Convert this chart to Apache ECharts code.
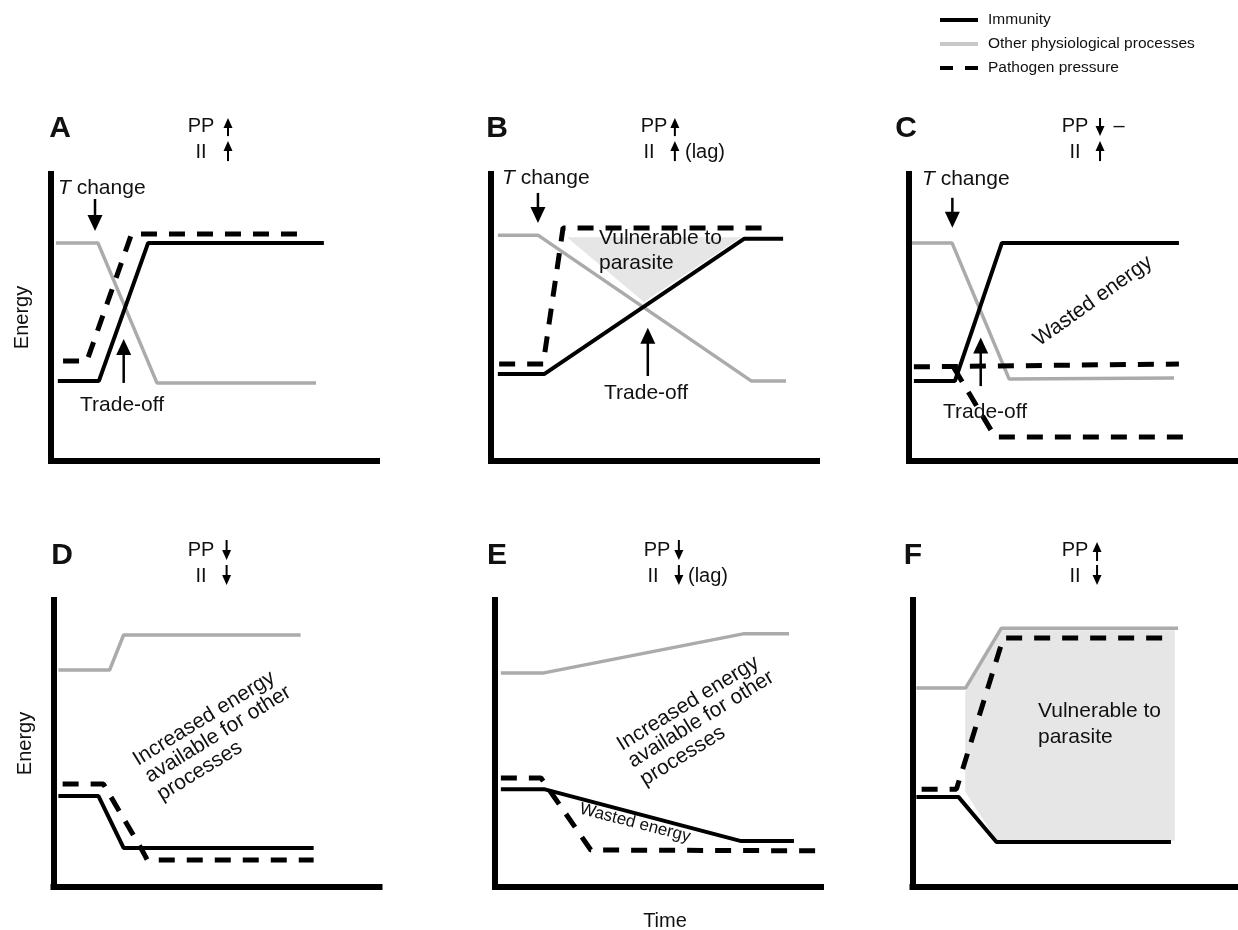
<!DOCTYPE html>
<html><head><meta charset="utf-8">
<script src="https://cdn.jsdelivr.net/npm/echarts@6/dist/echarts.min.js"></script>
<style>html,body{margin:0;padding:0;background:#fff}#c{width:1238px;height:930px}</style>
</head><body><div id="c"></div>
<script>
// ---------- data (schematic units: time 0-100, energy 0-100) ----------
const seriesNames = ['Immunity', 'Other physiological processes', 'Pathogen pressure'];
const panelLetters = ['A', 'B', 'C', 'D', 'E', 'F'];

const immA   = [[2.1,27.9],[14.7,27.9],[29.8,76],[83.7,76]];
const otherA = [[1.5,76],[14.4,76],[32.5,27.2],[81.3,27.2]];
const pathA  = [[3.7,34.8],[11.0,34.8],[24.7,79.1],[75.8,79.1]];

const immB   = [[2.1,30.3],[16.3,30.3],[77.6,77.4],[89.6,77.4]];
const otherB = [[2.1,78.7],[14.4,78.7],[79.8,27.9],[90.5,27.9]];
const pathB  = [[2.5,33.8],[16.0,33.8],[22.1,81.2],[85.3,81.2]];
const vulnB  = [[23.3,78.0],[76.7,78.0],[46.9,55.4]];

const immC   = [[1.5,27.9],[14.1,27.9],[28.5,76],[82.8,76]];
const otherC = [[0.9,76],[13.2,76],[30.7,28.6],[81.3,28.9]];
const pathC1 = [[1.5,32.8],[82.8,33.8]];
const pathC2 = [[13.8,32.4],[26.4,8.4],[86.5,8.4]];

const immD   = [[1.5,31.7],[13.8,31.7],[21.5,13.6],[79.8,13.6]];
const otherD = [[1.5,75.6],[17.2,75.6],[21.5,87.8],[75.8,87.8]];
const pathD  = [[2.8,35.9],[15.3,35.9],[27.0,13.2],[28.8,9.4],[79.8,9.4]];

const immE   = [[1.8,34.1],[15.0,34.1],[75.5,16.0],[91.7,16.0]];
const otherE = [[1.8,74.6],[15.0,74.6],[76.1,88.2],[90.2,88.2]];
const pathE  = [[1.8,38.0],[14.1,38.0],[29.4,12.9],[99.4,12.6]];

const immF   = [[1.2,31.4],[14.1,31.4],[25.8,15.7],[79.4,15.7]];
const otherF = [[1.2,69.3],[16.3,69.3],[27.3,90.2],[81.6,90.2]];
const pathF  = [[2.8,34.1],[13.5,34.1],[27.9,86.8],[79.4,86.8]];
const vulnF  = [[16.2,68.0],[27.2,89.5],[80.6,89.5],[80.6,16.1],[25.9,16.1],[16.2,33.2]];

// annotation arrows [x1, y1, x2(tip), y2(tip)]
const bigArrowsA = [[13.5,91.3,13.5,80.1],[22.3,27.2,22.3,42.5]];
const bigArrowsB = [[14.4,93.4,14.4,82.9],[48.1,29.6,48.1,46.4]];
const bigArrowsC = [[13.3,91.7,13.3,81.3],[22.0,26.1,22.0,43.0]];
const headArrowsA = [[54.3,113.2,54.3,119.5],[54.3,104.5,54.3,111.5]];
const headArrowsB = [[56.4,113.2,56.4,119.5],[56.4,104.5,56.4,111.5]];
const headArrowsC = [[58.6,119.5,58.6,113.2],[58.6,104.5,58.6,111.5]];
const headArrowsD = [[53.1,120.9,53.1,113.9],[53.1,112.2,53.1,105.2]];
const headArrowsE = [[56.4,120.9,56.4,113.9],[56.4,112.2,56.4,105.2]];
const headArrowsF = [[56.7,113.6,56.7,120.2],[56.7,112.2,56.7,105.2]];

// ---------- layout / style ----------
const FF = '"Liberation Sans", Arial, Helvetica, sans-serif';
const gridPos = [[51,174],[491,174],[909,174],[53.5,600],[495,600],[912.5,600]];
const GW = 326, GH = 287;
const GRAY = '#ababab', BLACK = '#000', FILL = '#e6e6e6', TXT = '#111';

const panels = [
  {imm:immA, other:otherA, path:[pathA], fill:null, big:bigArrowsA, head:headArrowsA},
  {imm:immB, other:otherB, path:[pathB], fill:vulnB, big:bigArrowsB, head:headArrowsB},
  {imm:immC, other:otherC, path:[pathC1, pathC2], fill:null, big:bigArrowsC, head:headArrowsC},
  {imm:immD, other:otherD, path:[pathD], fill:null, big:[], head:headArrowsD},
  {imm:immE, other:otherE, path:[pathE], fill:null, big:[], head:headArrowsE},
  {imm:immF, other:otherF, path:[pathF], fill:vulnF, big:[], head:headArrowsF}
];

const grid = [], xAxis = [], yAxis = [], series = [];
const axisLine = {show:true, onZero:false, lineStyle:{color:BLACK, width:6, cap:'square'}};
gridPos.forEach((g, i) => {
  grid.push({left:g[0], top:g[1], width:GW, height:GH, containLabel:false});
  xAxis.push({gridIndex:i, type:'value', min:0, max:100, axisLine, axisTick:{show:false},
    axisLabel:{show:false}, splitLine:{show:false}});
  const ya = {gridIndex:i, type:'value', min:0, max:100, axisLine, axisTick:{show:false},
    axisLabel:{show:false}, splitLine:{show:false}};
  if (i === 0 || i === 3) {
    Object.assign(ya, {name:'Energy', nameLocation:'middle', nameGap: i === 0 ? 19 : 18, nameRotate:90,
      nameTextStyle:{fontFamily:FF, fontSize:20, color:TXT}});
  }
  yAxis.push(ya);
});

function lineSeries(name, i, data, lineStyle, z) {
  return {name, type:'line', xAxisIndex:i, yAxisIndex:i, data, symbol:'none', showSymbol:false,
    silent:true, clip:false, z, lineStyle, itemStyle:{color:lineStyle.color}};
}
function fillSeries(i, pts) {
  return {type:'custom', xAxisIndex:i, yAxisIndex:i, silent:true, clip:false, z:1, data:pts,
    renderItem:(p, api) => {
      if (p.dataIndex !== 0) return {type:'group', children:[]};
      return {type:'polygon', shape:{points: pts.map(q => api.coord(q))}, style:{fill:FILL}};
    }};
}
function arrowSeries(i, data, hw, hl, stem) {
  return {type:'custom', xAxisIndex:i, yAxisIndex:i, silent:true, clip:false, z:6, data,
    renderItem:(p, api) => {
      const p1 = api.coord([api.value(0), api.value(1)]);
      const p2 = api.coord([api.value(2), api.value(3)]);
      const dx = p2[0]-p1[0], dy = p2[1]-p1[1], len = Math.hypot(dx, dy);
      const ux = dx/len, uy = dy/len, nx = -uy, ny = ux;
      const bx = p2[0]-ux*hl, by = p2[1]-uy*hl;
      return {type:'group', children:[
        {type:'line', shape:{x1:p1[0], y1:p1[1], x2:bx+ux, y2:by+uy}, style:{stroke:BLACK, lineWidth:stem}},
        {type:'polygon', shape:{points:[[p2[0],p2[1]],[bx+nx*hw/2, by+ny*hw/2],[bx-nx*hw/2, by-ny*hw/2]]},
          style:{fill:BLACK}}
      ]};
    }};
}

panels.forEach((P, i) => {
  if (P.fill) series.push(fillSeries(i, P.fill));
  series.push(lineSeries(seriesNames[1], i, P.other, {color:GRAY, width:3.5}, 2));
  series.push(lineSeries(seriesNames[0], i, P.imm, {color:BLACK, width:4}, 3));
  P.path.forEach(d => series.push(lineSeries(seriesNames[2], i, d, {color:BLACK, width:5, type:[16,12]}, 4)));
  if (P.big.length) series.push(arrowSeries(i, P.big, 15, 16, 2.5));
  series.push(arrowSeries(i, P.head, 9, 10, 2));
});

// ---------- text annotations ----------
function txt(x, y, text, size, align, extra) {
  const st = Object.assign({text, fontFamily:FF, fontSize:size, fill:TXT,
    align:align, verticalAlign:'middle', textAlign:align, textVerticalAlign:'middle'}, (extra && extra.style) || {});
  const el = {type:'text', x, y, silent:true, z:10, style:st};
  if (extra && extra.rotation) el.rotation = extra.rotation * Math.PI / 180;
  return el;
}
const bold = {style:{fontWeight:'bold'}};
const ital = {style:{rich:{i:{fontStyle:'italic', fontFamily:FF, fontSize:21, fill:TXT}, n:{fontFamily:FF, fontSize:21, fill:TXT}}}};
const ROT = 31.6;
const graphic = [
  txt(60,129,panelLetters[0],30,'center',bold), txt(201,126,'PP',20,'center'), txt(201,152,'II',20,'center'),
  txt(58,188,'{i|T}{n| change}',21,'left',ital), txt(122,405,'Trade-off',21,'center'),

  txt(497,129,panelLetters[1],30,'center',bold), txt(654,126,'PP',20,'center'), txt(649,152,'II',20,'center'),
  txt(685,152,'(lag)',20,'left'), txt(502,178,'{i|T}{n| change}',21,'left',ital),
  txt(599,238,'Vulnerable to',21,'left'), txt(599,263,'parasite',21,'left'), txt(646,393,'Trade-off',21,'center'),

  txt(906,129,panelLetters[2],30,'center',bold), txt(1075,126,'PP',20,'center'), txt(1119,126,'–',20,'center'),
  txt(1075,152,'II',20,'center'), txt(922,179,'{i|T}{n| change}',21,'left',ital),
  txt(1093,301,'Wasted energy',21,'center',{rotation:35.5}), txt(985,412,'Trade-off',21,'center'),

  txt(62,556,panelLetters[3],30,'center',bold), txt(201,550,'PP',20,'center'), txt(201,576,'II',20,'center'),
  txt(135,761,'Increased energy',21,'left',{rotation:ROT}),
  txt(147,778,'available for other',21,'left',{rotation:ROT}),
  txt(159,796,'processes',21,'left',{rotation:ROT}),

  txt(497,556,panelLetters[4],30,'center',bold), txt(657,550,'PP',20,'center'), txt(653,576,'II',20,'center'),
  txt(688,576,'(lag)',20,'left'),
  txt(619,746,'Increased energy',21,'left',{rotation:ROT}),
  txt(630,763,'available for other',21,'left',{rotation:ROT}),
  txt(642,781,'processes',21,'left',{rotation:ROT}),
  txt(635,823,'Wasted energy',17,'center',{rotation:-14.5}),

  txt(913,556,panelLetters[5],30,'center',bold), txt(1075,550,'PP',20,'center'), txt(1075,576,'II',20,'center'),
  txt(1038,711,'Vulnerable to',21,'left'), txt(1038,737,'parasite',21,'left'),

  txt(665,921,'Time',20,'center')
];

const chart = echarts.init(document.getElementById('c'));
chart.setOption({
  animation:false,
  backgroundColor:'#fff',
  legend:{orient:'vertical', left:935, top:7, itemWidth:38, itemHeight:4, itemGap:8, selectedMode:false,
    symbolKeepAspect:false,
    data:[
      {name:seriesNames[0], icon:'rect', itemStyle:{color:BLACK}},
      {name:seriesNames[1], icon:'rect', itemStyle:{color:'#c8c8c8'}},
      {name:seriesNames[2], icon:'path://M0,0H13V4H0Z M25,0H38V4H25Z', itemStyle:{color:BLACK}}
    ],
    textStyle:{fontFamily:FF, fontSize:15.5, color:TXT, padding:[0,0,0,5]}},
  grid, xAxis, yAxis, series, graphic
});
</script></body></html>
